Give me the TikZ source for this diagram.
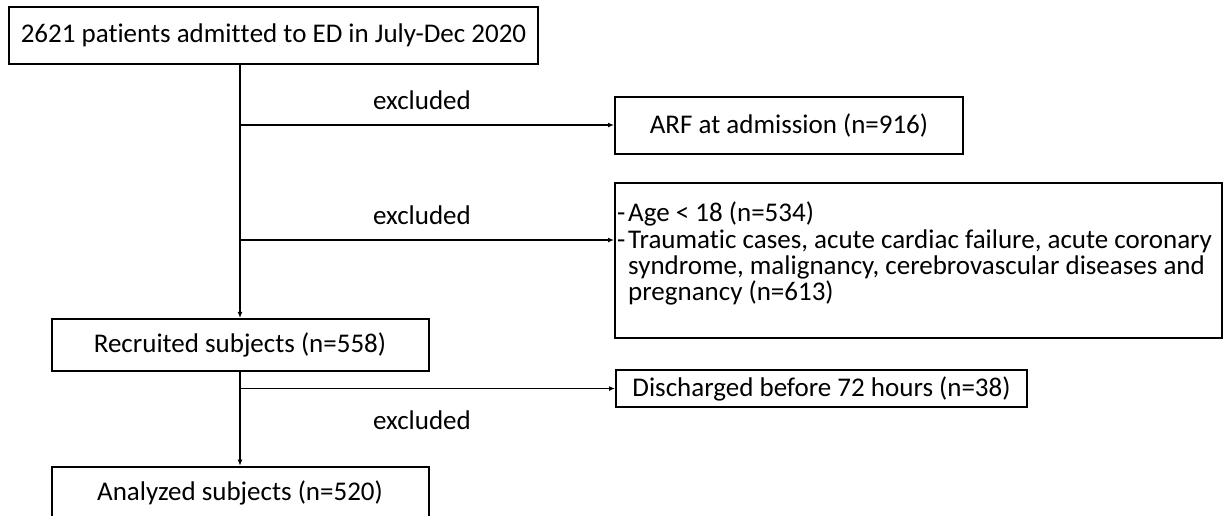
\documentclass[tikz,border=0pt]{standalone}
\usepackage{fontspec}
\setmainfont{Carlito}[Ligatures={NoCommon},RawFeature={-liga;-clig;-dlig}]
\usetikzlibrary{arrows.meta}
\newlength{\dashw}
\setlength{\dashw}{11pt}
\newcommand{\nl}{\kern0pt }
\begin{document}
\begin{tikzpicture}[x=1pt,y=-1pt,
  box/.style={draw,line width=2pt,inner sep=0pt,font=\fontsize{27}{26.3}\selectfont},
  lbl/.style={inner sep=0pt,font=\fontsize{27}{26.3}\selectfont},
  arr/.style={line width=1.6pt,-{Latex[length=6pt,width=5pt]}}]
\useasboundingbox (0,0) rectangle (1223,515);
% boxes
\node[box,minimum width=529pt,minimum height=57pt] (top) at (273.5,35.5) {2621 pat\nl ients admit\nl t\nl ed to ED in July-Dec 2020};
\node[box,minimum width=348pt,minimum height=57pt] (arf) at (789,125) {ARF at admission (n=916)};
\node[box,minimum width=607pt,minimum height=155.3pt] (big) at (918.5,260.3) {};
\node[lbl,anchor=north west,align=left] (bigtext) at (617,202) {%
\makebox[\dashw][l]{-}Age < 18 (n=534)\\
\makebox[\dashw][l]{-}Traumat\nl ic cases, acute cardiac failure, acute coronary\\
\hspace*{\dashw}syndrome, malignancy, cerebrovascular diseases and\\
\hspace*{\dashw}pregnancy (n=613)};
\node[box,minimum width=377pt,minimum height=51.7pt] (rec) at (240,344.8) {Recruited subjects (n=558)};
\node[box,minimum width=411pt,minimum height=36.7pt] (dis) at (821.5,388.5) {Discharged before 72 hours (n=38)};
\node[box,minimum width=377pt,minimum height=52pt] (ana) at (240,492.7) {Analyzed subjects (n=520)};
% labels
\node[lbl] (ex1) at (422,100) {excluded};
\node[lbl] (ex2) at (422,215) {excluded};
\node[lbl] (ex3) at (422,420.7) {excluded};
% branch points
\coordinate (b1) at (240,125);
\coordinate (b2) at (240,240);
\coordinate (b3) at (240,388.5);
% connectors
\draw[arr] (top.south -| rec.north) -- (rec.north);
\draw[arr] (b1) -- (arf.west);
\draw[arr] (b2) -- (b2 -| big.west);
\draw[arr] (rec.south) -- (ana.north);
\draw[arr] (b3) -- (dis.west);
\end{tikzpicture}
\end{document}
